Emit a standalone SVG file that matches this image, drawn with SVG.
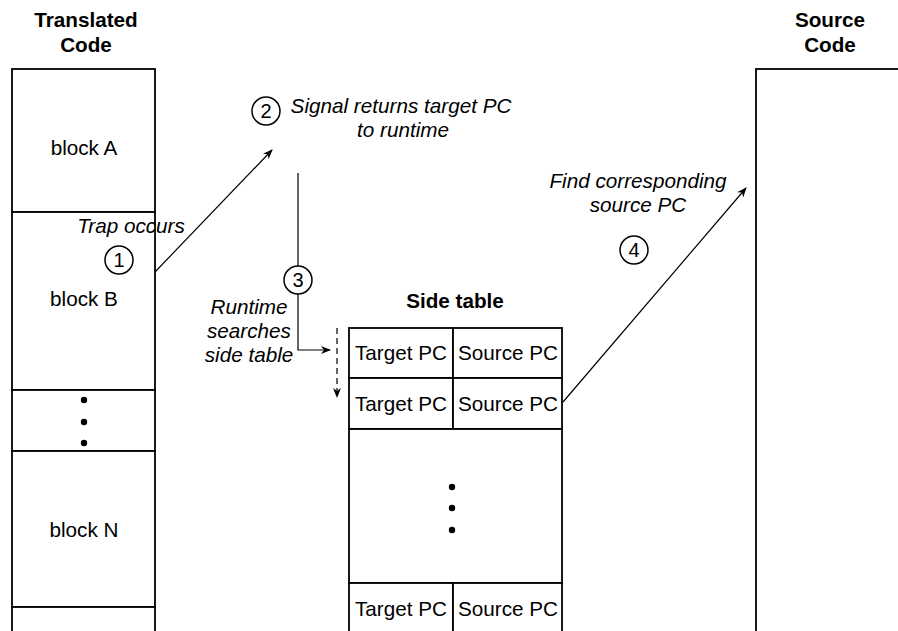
<svg xmlns="http://www.w3.org/2000/svg" width="898" height="631" viewBox="0 0 898 631">
<defs>
<marker id="ah" markerWidth="10" markerHeight="10" refX="9" refY="5" orient="auto" markerUnits="userSpaceOnUse">
<path d="M0,1 L10,5 L0,9 L3,5 Z" fill="#000"/>
</marker>
<style>
.box{fill:#fff;stroke:#000;stroke-width:1.8}
.t{font-family:"Liberation Sans",Arial,sans-serif;font-size:20.7px;fill:#000;text-anchor:middle}
.b{font-weight:bold}
.i{font-style:italic}
.n{font-family:"Liberation Sans",Arial,sans-serif;font-size:20px;fill:#000;text-anchor:middle}
.c{fill:#fff;stroke:#000;stroke-width:1.5}
.ln{fill:none;stroke:#000;stroke-width:1.2}
</style>
</defs>
<rect width="898" height="631" fill="#fff"/>

<g id="translated-code">
<text class="t b" x="86" y="27">Translated</text>
<text class="t b" x="86" y="52">Code</text>
<rect class="box" x="12" y="69" width="143" height="143"/>
<text class="t" x="84" y="155">block A</text>
<rect class="box" x="12" y="212" width="143" height="178"/>
<text class="t" x="84" y="306">block B</text>
<rect class="box" x="12" y="390" width="143" height="61"/>
<circle cx="84" cy="400" r="3.2"/>
<circle cx="84" cy="422" r="3.2"/>
<circle cx="84" cy="443" r="3.2"/>
<rect class="box" x="12" y="451" width="143" height="156"/>
<text class="t" x="84" y="537">block N</text>
<rect class="box" x="12" y="607" width="143" height="40"/>
</g>

<g id="source-code">
<text class="t b" x="830" y="27">Source</text>
<text class="t b" x="830" y="52">Code</text>
<rect class="box" x="756" y="69" width="160" height="600"/>
</g>

<g id="side-table">
<text class="t b" x="455" y="308">Side table</text>
<rect class="box" x="349" y="328" width="104" height="50"/>
<rect class="box" x="453" y="328" width="109" height="50"/>
<text class="t" x="401" y="360">Target PC</text>
<text class="t" x="508" y="360">Source PC</text>
<rect class="box" x="349" y="378" width="104" height="51"/>
<rect class="box" x="453" y="378" width="109" height="51"/>
<text class="t" x="401" y="411">Target PC</text>
<text class="t" x="508" y="411">Source PC</text>
<rect class="box" x="349" y="429" width="213" height="154"/>
<circle cx="452" cy="487" r="3.2"/>
<circle cx="452" cy="508" r="3.2"/>
<circle cx="452" cy="530" r="3.2"/>
<rect class="box" x="349" y="583" width="104" height="60"/>
<rect class="box" x="453" y="583" width="109" height="60"/>
<text class="t" x="401" y="616">Target PC</text>
<text class="t" x="508" y="616">Source PC</text>
</g>

<g id="connectors">
<line class="ln" x1="155" y1="272" x2="272" y2="150" marker-end="url(#ah)"/>
<polyline class="ln" points="298,173 298,350 330,350" marker-end="url(#ah)"/>
<line class="ln" x1="337" y1="328" x2="337" y2="397" stroke-dasharray="6,4" marker-end="url(#ah)"/>
<line class="ln" x1="563" y1="402" x2="746" y2="188" marker-end="url(#ah)"/>
</g>

<g id="step1">
<text class="t i" x="131" y="233">Trap occurs</text>
<circle class="c" cx="119" cy="260" r="14"/>
<text class="n" x="119" y="267">1</text>
</g>

<g id="step2">
<circle class="c" cx="266" cy="111" r="14"/>
<text class="n" x="266" y="118">2</text>
<text class="t i" x="401" y="113">Signal returns target PC</text>
<text class="t i" x="403" y="137">to runtime</text>
</g>

<g id="step3">
<circle class="c" cx="298" cy="280" r="14"/>
<text class="n" x="298" y="287">3</text>
<text class="t i" x="249" y="314">Runtime</text>
<text class="t i" x="249" y="338">searches</text>
<text class="t i" x="249" y="362">side table</text>
</g>

<g id="step4">
<text class="t i" x="638" y="188">Find corresponding</text>
<text class="t i" x="638" y="212">source PC</text>
<circle class="c" cx="634" cy="250" r="14"/>
<text class="n" x="634" y="257">4</text>
</g>
</svg>
